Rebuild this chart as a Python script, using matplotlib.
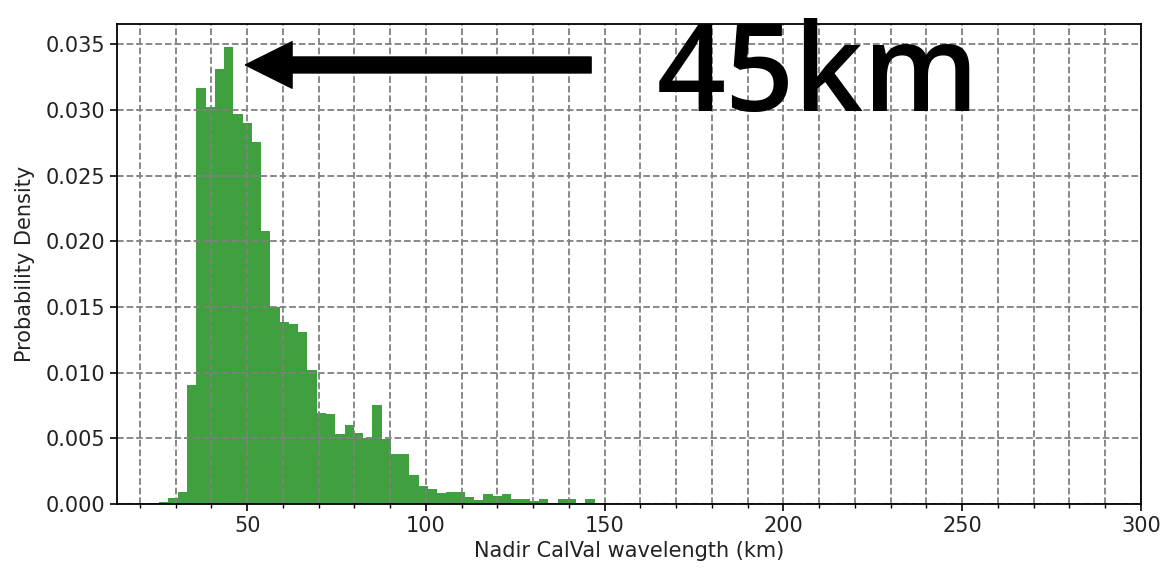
import numpy as np
import matplotlib
matplotlib.use("Agg")
import matplotlib.pyplot as plt
from matplotlib.ticker import MultipleLocator

# histogram of nadir CalVal wavelengths (density per bin)
bin_lo = 20.2
bin_hi = 147.2
density = [0.00003, 0.00008, 0.00018, 0.00043, 0.00089,
           0.00906, 0.03165, 0.03025, 0.0331, 0.03482,
           0.02967, 0.02903, 0.02759, 0.02081, 0.01502,
           0.01388, 0.01368, 0.01312, 0.0102, 0.0069,
           0.00683, 0.00533, 0.00601, 0.00543, 0.005,
           0.00754, 0.00495, 0.00381, 0.00381, 0.00221,
           0.00137, 0.00112, 0.00086, 0.00094, 0.00094,
           0.00056, 0.0003, 0.00076, 0.00061, 0.00074,
           0.00036, 0.00036, 0.00024, 0.00036, 0.0001,
           0.00036, 0.00036, 0.00005, 0.00036]

peak_label = "45km"

edges = np.linspace(bin_lo, bin_hi, len(density) + 1)
centers = 0.5 * (edges[:-1] + edges[1:])

fig = plt.figure(figsize=(11.67, 5.70), dpi=100)
ax = fig.add_axes([0.1003, 0.1158, 0.8774, 0.8421])

ax.hist(centers, bins=edges, weights=density, facecolor='g', alpha=0.75)

ax.set_xlim(13.6, 300)
ax.set_ylim(0, 0.03655)
ax.xaxis.set_major_locator(MultipleLocator(50))
ax.xaxis.set_minor_locator(MultipleLocator(10))
ax.yaxis.set_major_locator(MultipleLocator(0.005))
ax.yaxis.set_major_formatter(plt.FormatStrFormatter('%.3f'))

ax.grid(True, which='both', axis='x', linestyle='--', color='grey', linewidth=1.3)
ax.grid(True, which='major', axis='y', linestyle='--', color='grey', linewidth=1.3)

for s in ax.spines.values():
    s.set_linewidth(1.3)
ax.tick_params(which='major', labelsize=15, length=5, width=1.2, labelcolor='#222222')
ax.tick_params(which='minor', length=3, width=1.0)

ax.set_xlabel("Nadir CalVal wavelength (km)", fontsize=15, color='#222222')
ax.set_ylabel("Probability Density", fontsize=15, color='#222222', labelpad=8)

# arrow pointing at the mode
ax.annotate("", xy=(49.5, 0.03343), xytext=(146.2, 0.03343),
            arrowprops=dict(arrowstyle="simple,head_length=33.6,head_width=33.5,tail_width=11.5",
                            mutation_scale=1, color='black', shrinkA=0, shrinkB=0))
ax.text(164.5, 0.0299, peak_label, fontsize=87, family='Open Sans',
        fontweight='semibold', va='baseline', ha='left', color='black')

fig.savefig("out.png", dpi=100)
